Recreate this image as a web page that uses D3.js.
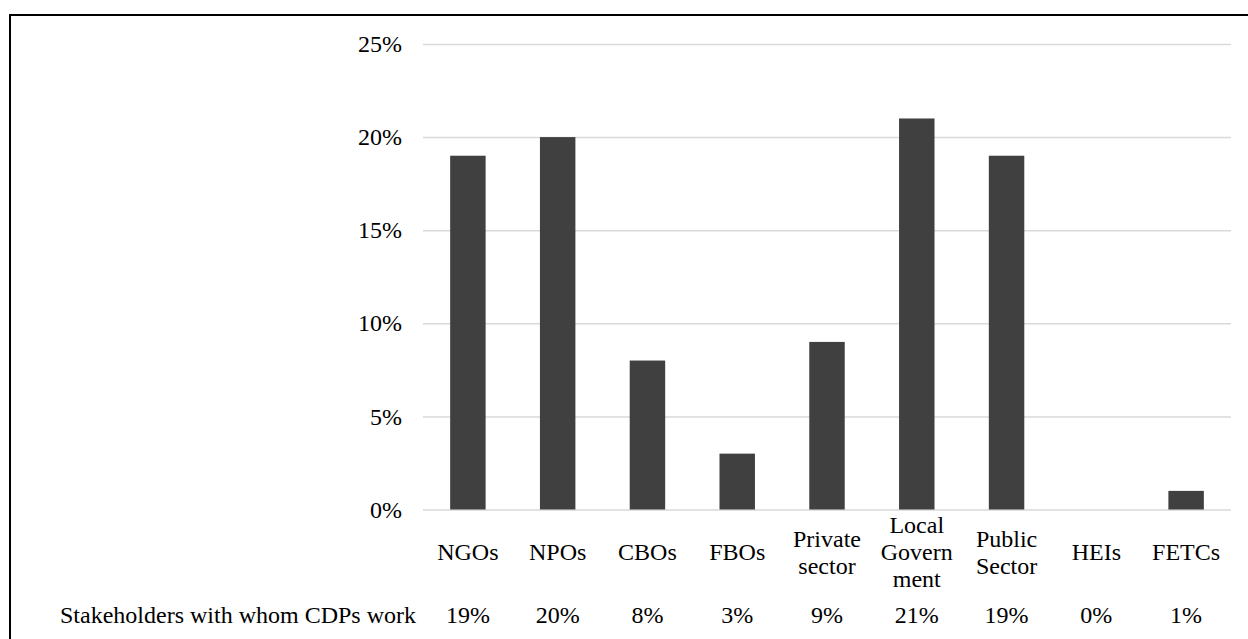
<!DOCTYPE html>
<html>
<head>
<meta charset="utf-8">
<script src="https://cdn.jsdelivr.net/npm/d3@7"></script>
<style>
  html, body { margin: 0; padding: 0; background: #fff; }
  svg { display: block; }
  text { font-family: "Liberation Serif", "Times New Roman", serif; fill: #000; }
</style>
</head>
<body>
<svg id="chart" width="1248" height="639"></svg>
<script>
const categories = ["NGOs", "NPOs", "CBOs", "FBOs", "Private sector", "Local Government", "Public Sector", "HEIs", "FETCs"];
const categoryLines = [["NGOs"], ["NPOs"], ["CBOs"], ["FBOs"], ["Private", "sector"], ["Local", "Govern", "ment"], ["Public", "Sector"], ["HEIs"], ["FETCs"]];
const values = [19, 20, 8, 3, 9, 21, 19, 0, 1];
const yTicks = [0, 5, 10, 15, 20, 25];
const seriesName = "Stakeholders with whom CDPs work";

const svg = d3.select("#chart");
const plot = { left: 423, right: 1231, top: 44, bottom: 509.5 };

// outer border (extends past right/bottom edges as in the reference)
svg.append("rect")
  .attr("x", 10).attr("y", 15)
  .attr("width", 1260).attr("height", 700)
  .attr("fill", "none").attr("stroke", "#000").attr("stroke-width", 2);

const x = d3.scaleBand().domain(categories).range([plot.left, plot.right]).paddingInner(0.605).paddingOuter(0.3025);
const y = d3.scaleLinear().domain([0, 25]).range([plot.bottom, plot.top]);

// y axis with gridlines
const yAxis = svg.append("g")
  .attr("transform", `translate(${plot.left},0)`)
  .call(d3.axisLeft(y).tickValues(yTicks).tickFormat(d => d + "%").tickSize(-(plot.right - plot.left)).tickPadding(21));
yAxis.select(".domain").remove();
yAxis.selectAll(".tick line").attr("stroke", "#d9d9d9").attr("stroke-width", 1.5);
yAxis.selectAll(".tick text")
  .style("font-family", '"Liberation Serif", "Times New Roman", serif')
  .style("font-size", "24px").attr("fill", "#000");

// bars
svg.append("g").selectAll("rect")
  .data(values)
  .join("rect")
  .attr("x", (d, i) => x(categories[i]))
  .attr("width", x.bandwidth())
  .attr("y", d => y(d))
  .attr("height", d => y(0) - y(d))
  .attr("fill", "#404040");

// category labels (x axis)
const lineH = 27;
const labelMid = 560;
const xLabels = svg.append("g");
categories.forEach((c, i) => {
  const lines = categoryLines[i];
  const t = xLabels.append("text")
    .attr("text-anchor", "middle")
    .style("font-size", "24px");
  const cx = x(c) + x.bandwidth() / 2;
  lines.forEach((ln, j) => {
    t.append("tspan")
      .attr("x", cx)
      .attr("y", labelMid + (j - (lines.length - 1) / 2) * lineH)
      .text(ln);
  });
});

// data table row
const rowY = 623;
svg.append("text")
  .attr("x", 416).attr("y", rowY)
  .attr("text-anchor", "end")
  .style("font-size", "24px")
  .text(seriesName);
svg.append("g").selectAll("text")
  .data(values)
  .join("text")
  .attr("x", (d, i) => x(categories[i]) + x.bandwidth() / 2)
  .attr("y", rowY)
  .attr("text-anchor", "middle")
  .style("font-size", "24px")
  .text(d => d + "%");
</script>
</body>
</html>
